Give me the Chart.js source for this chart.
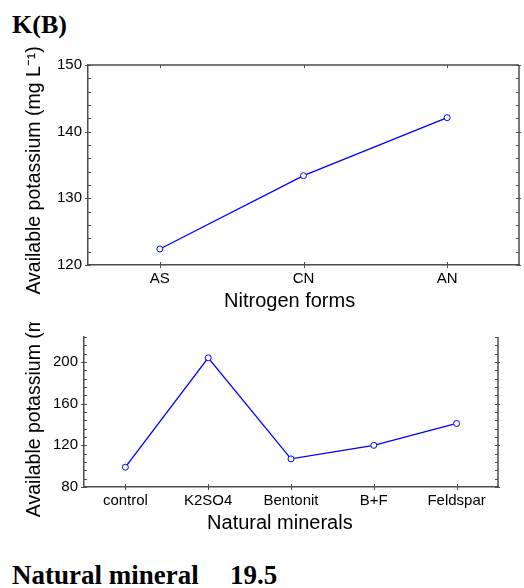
<!DOCTYPE html>
<html>
<head>
<meta charset="utf-8">
<script src="https://cdn.jsdelivr.net/npm/chart.js@4.4.1/dist/chart.umd.min.js"></script>
<style>
body { margin: 0; background: #fff; width: 524px; height: 588px; position: relative; overflow: hidden; }
.lbl { position: absolute; font-family: "Liberation Serif", "Times New Roman", serif; font-weight: bold; color: #000; white-space: pre; }
canvas { position: absolute; left: 0; }
</style>
</head>
<body>
<div class="lbl" style="left:12px; top:10px; font-size:26px;">K(B)</div>
<canvas id="chart_nitrogen" width="524" height="275" style="top:40px;"></canvas>
<canvas id="chart_minerals" width="524" height="215" style="top:322px;"></canvas>
<div class="lbl" style="left:12px; top:560px; font-size:27px;">Natural mineral</div>
<div class="lbl" style="left:230px; top:560px; font-size:27px;">19.5</div>

<script>
// nitrogen forms (top panel)
var nitrogen_labels = ['AS', 'CN', 'AN'];
var nitrogen_values = [122.4, 133.4, 142.1];
var nitrogen_min = 120, nitrogen_max = 150, nitrogen_step = 10, nitrogen_minor = 2;

// natural minerals (bottom panel)
var mineral_labels = ['control', 'K2SO4', 'Bentonit', 'B+F', 'Feldspar'];
var mineral_values = [99, 204, 107, 120, 141];
var mineral_min = 80, mineral_max = 224, mineral_step = 40, mineral_minor = 8;

var y_title = 'Available potassium (mg L\u207B\u00B9)';
var line_color = '#0000ff';
var axis_color = '#4d4d4d';
var font_family = '"Liberation Sans", Arial, sans-serif';

Chart.defaults.font.family = font_family;
Chart.defaults.color = '#000';

// titles in the original sit a bit off the plot centre; padding with spaces nudges them
function pad_title(text, before, after) {
  return ' '.repeat(before) + text + ' '.repeat(after);
}

var frame_plugin = {
  id: 'frame',
  afterDraw: function (chart) {
    var opts = chart.options.plugins.frame;
    var ctx = chart.ctx;
    var area = chart.chartArea;
    var x = chart.scales.x;
    var y = chart.scales.y;
    ctx.save();
    ctx.strokeStyle = axis_color;
    ctx.lineWidth = 1.5;
    ctx.beginPath();
    ctx.moveTo(area.right, area.top);
    ctx.lineTo(area.right, area.bottom);
    if (opts.top_border) {
      ctx.moveTo(area.left, area.top);
      ctx.lineTo(area.right, area.top);
    }
    ctx.stroke();
    ctx.lineWidth = 1;
    ctx.beginPath();
    for (var v = y.min; v <= y.max; v += opts.minor) {
      var py = Math.round(y.getPixelForValue(v)) + 0.5;
      var major = (v - y.min) % opts.major === 0;
      ctx.moveTo(area.left - (major ? 3 : 0), py);
      ctx.lineTo(area.left + 3, py);
      ctx.moveTo(area.right - 3, py);
      ctx.lineTo(area.right + (major ? 2 : 0), py);
    }
    for (var i = 0; i < chart.data.labels.length; i++) {
      var px = Math.round(x.getPixelForValue(i)) + 0.5;
      ctx.moveTo(px, area.bottom - 3);
      ctx.lineTo(px, area.bottom + 3);
      if (opts.top_border) {
        ctx.moveTo(px, area.top);
        ctx.lineTo(px, area.top + 3);
      }
    }
    ctx.stroke();
    ctx.restore();
  }
};

function make_chart(id, labels, values, y_min, y_max, y_step, minor, x_name, y_name, top_border, pad, y_width) {
  var ctx = document.getElementById(id).getContext('2d');
  return new Chart(ctx, {
    type: 'line',
    data: {
      labels: labels,
      datasets: [{
        data: values,
        borderColor: line_color,
        borderWidth: 1.3,
        backgroundColor: '#ffffff',
        pointRadius: 3,
        pointBorderWidth: 1,
        pointBackgroundColor: '#ffffff',
        pointBorderColor: line_color,
        tension: 0
      }]
    },
    options: {
      responsive: false,
      animation: false,
      layout: { padding: pad },
      plugins: {
        legend: { display: false },
        tooltip: { enabled: false },
        frame: { minor: minor, major: y_step, top_border: top_border }
      },
      scales: {
        x: {
          offset: true,
          grid: { display: false, drawTicks: false },
          border: { display: true, color: axis_color, width: 1.5 },
          ticks: { padding: 5, font: { size: 15 }, maxRotation: 0, autoSkip: false },
          title: { display: true, text: x_name, font: { size: 20 }, padding: { top: 4, bottom: 2 } },
          afterFit: function (scale) { scale.height = 50; }
        },
        y: {
          min: y_min,
          max: y_max,
          grid: { display: false, drawTicks: false },
          border: { display: true, color: axis_color, width: 1.5 },
          ticks: { stepSize: y_step, includeBounds: false, padding: 6, font: { size: 15 } },
          title: { display: true, text: y_name, font: { size: 19.5 }, padding: { top: 4, bottom: 4 } },
          afterFit: function (scale) { scale.width = y_width; }
        }
      }
    },
    plugins: [frame_plugin]
  });
}

make_chart('chart_nitrogen', nitrogen_labels, nitrogen_values, nitrogen_min, nitrogen_max, nitrogen_step,
  nitrogen_minor, pad_title('Nitrogen forms', 0, 5), pad_title(y_title, 0, 2), true,
  { left: 19, top: 25, right: 2, bottom: 0 }, 69);
make_chart('chart_minerals', mineral_labels, mineral_values, mineral_min, mineral_max, mineral_step,
  mineral_minor, pad_title('Natural minerals', 0, 4), pad_title(y_title, 7, 0), false,
  { left: 19, top: 0, right: 26, bottom: 0 }, 65);
</script>
</body>
</html>
